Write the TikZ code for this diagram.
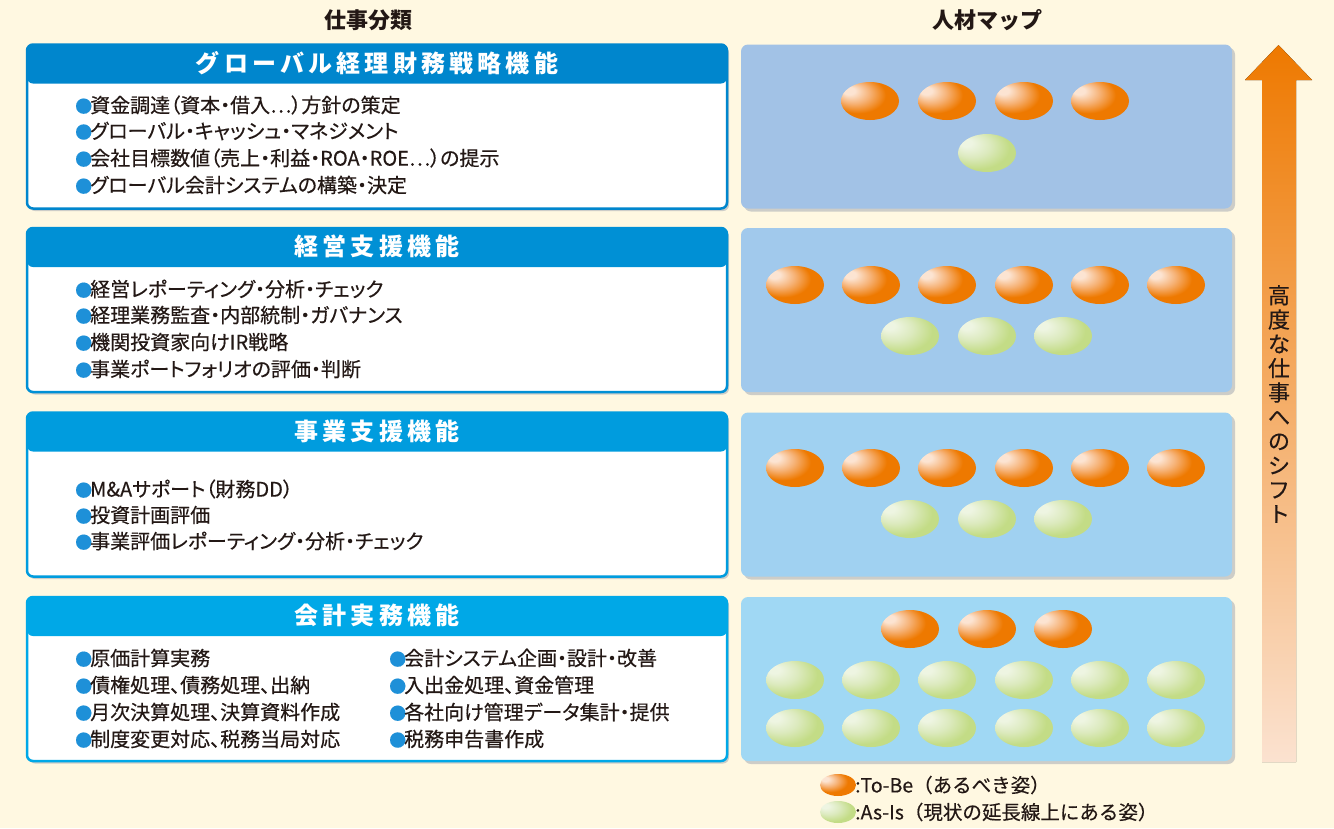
\documentclass[tikz,border=0pt]{standalone}
\usepackage{fontspec}
\setmainfont{Noto Sans CJK JP}
\newfontfamily\jpp[RawFeature=+palt,FakeBold=0.35]{Noto Sans CJK JP}
\newfontfamily\jpm[FakeBold=0.35]{Noto Sans CJK JP}
\usetikzlibrary{shapes.geometric}
\definecolor{bg}{RGB}{255,248,225}
\definecolor{txt}{RGB}{35,24,21}
\definecolor{hA}{RGB}{0,134,205}
\definecolor{hB}{RGB}{0,144,213}
\definecolor{hC}{RGB}{0,156,222}
\definecolor{hD}{RGB}{0,168,231}
\definecolor{pA}{RGB}{162,194,230}
\definecolor{pB}{RGB}{161,201,236}
\definecolor{pC}{RGB}{160,209,241}
\definecolor{pD}{RGB}{160,216,244}
\definecolor{shd}{RGB}{205,205,200}
\definecolor{bdot}{RGB}{30,144,216}
\definecolor{oHi}{RGB}{252,228,210}
\definecolor{oMid}{RGB}{246,178,118}
\definecolor{oDeep}{RGB}{238,121,0}
\definecolor{gHi}{RGB}{238,245,226}
\definecolor{gMid}{RGB}{220,234,190}
\definecolor{gDeep}{RGB}{195,220,134}
\definecolor{arrTop}{RGB}{238,121,0}
\definecolor{arrMid}{RGB}{244,172,112}
\definecolor{arrBot}{RGB}{251,226,208}
\pgfdeclareradialshading{ballO}{\pgfpoint{-20bp}{15bp}}{color(0bp)=(oHi); color(5bp)=(oHi); color(14bp)=(oMid); color(24bp)=(oDeep); color(50bp)=(oDeep)}
\pgfdeclareradialshading{ballG}{\pgfpoint{-20bp}{15bp}}{color(0bp)=(gHi); color(5bp)=(gHi); color(16bp)=(gMid); color(28bp)=(gDeep); color(50bp)=(gDeep)}
\newcommand{\bl}{\textcolor{bdot}{\fontsize{17}{17}\selectfont●}\kern-2pt}
\tikzset{
  lbox/.style={draw=#1, fill=white, line width=2.5pt, rounded corners=6pt,
    minimum width=700pt, minimum height=164pt, inner sep=0pt,
    preaction={fill=shd, transform canvas={xshift=2pt,yshift=-2.5pt}},
    path picture={\fill[#1] (path picture bounding box.north west) rectangle ([yshift=-39pt]path picture bounding box.north east);}},
  rpanel/.style={fill=#1, rounded corners=7pt, minimum width=491pt, minimum height=164pt, inner sep=0pt,
    preaction={fill=shd, transform canvas={xshift=3pt,yshift=-3pt}}},
  hdtext/.style={text=white, font=\bfseries\fontsize{24}{24}\selectfont\addfontfeature{LetterSpace=17.5}},
  bul/.style={anchor=west, inner sep=0pt, text=txt, font=\jpp\fontsize{20}{20}\selectfont},
  oball/.style={ellipse, shading=ballO, minimum width=58pt, minimum height=38pt, inner sep=0pt},
  gball/.style={ellipse, shading=ballG, minimum width=58pt, minimum height=38pt, inner sep=0pt},
  colhead/.style={text=txt, font=\bfseries\fontsize{22}{22}\selectfont},
}
\begin{document}
\begin{tikzpicture}[x=1pt,y=-1pt]
\fill[bg] (0,0) rectangle (1334,828);
\useasboundingbox (0,0) rectangle (1334,828);

% column headers
\node[colhead] (ch1) at (368,20) {仕事分類};
\node[colhead] (ch2) at (987,20) {人材マップ};

% left boxes
\node[lbox=hA] (L1) at (377,126.5) {};
\node[lbox=hB] (L2) at (377,310) {};
\node[lbox=hC] (L3) at (377,494.5) {};
\node[lbox=hD] (L4) at (377,679) {};
\node[hdtext] (H1) at ([yshift=-20pt]L1.north) {グローバル経理財務戦略機能};
\node[hdtext] (H2) at ([yshift=-20pt]L2.north) {経営支援機能};
\node[hdtext] (H3) at ([yshift=-20pt]L3.north) {事業支援機能};
\node[hdtext] (H4) at ([yshift=-20pt]L4.north) {会計実務機能};

% bullets box 1
\node[bul] (t11) at (75,105) {\bl 資金調達（資本・借入…）方針の策定};
\node[bul] (t12) at (75,131) {\bl グローバル・キャッシュ・マネジメント};
\node[bul] (t13) at (75,158) {\bl 会社目標数値（売上・利益・ROA・ROE…）の提示};
\node[bul] (t14) at (75,185) {\bl グローバル会計システムの構築・決定};
% box 2
\node[bul] (t21) at (75,289) {\bl 経営レポーティング・分析・チェック};
\node[bul] (t22) at (75,315) {\bl 経理業務監査・内部統制・ガバナンス};
\node[bul] (t23) at (75,342) {\bl 機関投資家向けIR戦略};
\node[bul] (t24) at (75,369) {\bl 事業ポートフォリオの評価・判断};
% box 3
\node[bul] (t31) at (75,489) {\bl M\&Aサポート（財務DD）};
\node[bul] (t32) at (75,515) {\bl 投資計画評価};
\node[bul] (t33) at (75,541) {\bl 事業評価レポーティング・分析・チェック};
% box 4
\node[bul] (t41) at (75,658) {\bl 原価計算実務};
\node[bul] (t42) at (75,685) {\bl 債権処理、債務処理、出納};
\node[bul] (t43) at (75,712) {\bl 月次決算処理、決算資料作成};
\node[bul] (t44) at (75,739) {\bl 制度変更対応、税務当局対応};
\node[bul] (t45) at (389,658) {\bl 会計システム企画・設計・改善};
\node[bul] (t46) at (389,685) {\bl 入出金処理、資金管理};
\node[bul] (t47) at (389,712) {\bl 各社向け管理データ集計・提供};
\node[bul] (t48) at (389,739) {\bl 税務申告書作成};

% right panels
\node[rpanel=pA] (R1) at (986.5,126.5) {};
\node[rpanel=pB] (R2) at (986.5,310) {};
\node[rpanel=pC] (R3) at (986.5,494.5) {};
\node[rpanel=pD] (R4) at (986.5,679) {};

% panel 1
\foreach \x [count=\i] in {870,947,1024,1100} \node[oball] (a\i) at (\x,101) {};
\node[gball] (ag1) at (987,153) {};
% panel 2
\foreach \x [count=\i] in {795,871,947,1024,1100,1176} \node[oball] (b\i) at (\x,285) {};
\foreach \x [count=\i] in {910,987,1063} \node[gball] (bg\i) at (\x,336) {};
% panel 3
\foreach \x [count=\i] in {795,871,947,1024,1100,1176} \node[oball] (c\i) at (\x,468) {};
\foreach \x [count=\i] in {910,987,1063} \node[gball] (cg\i) at (\x,519) {};
% panel 4
\foreach \x [count=\i] in {910,987,1063} \node[oball] (d\i) at (\x,629) {};
\foreach \x [count=\i] in {795,871,947,1024,1100,1176} \node[gball] (dg\i) at (\x,680) {};
\foreach \x [count=\i] in {795,871,947,1024,1100,1176} \node[gball] (dh\i) at (\x,728) {};

% arrow
\fill[top color=arrTop, middle color=arrMid, bottom color=arrBot]
  (1278.5,45) -- (1312,80) -- (1296,80) -- (1296,762) -- (1262,762) -- (1262,80) -- (1245,80) -- cycle;
\node[align=center, text=txt, inner sep=0pt, font=\jpm\fontsize{22}{24.3}\selectfont] (shift) at (1279,404)
  {高\\度\\な\\仕\\事\\へ\\の\\シ\\フ\\ト};

% legend
\node[oball, minimum width=36pt, minimum height=22pt] (lo) at (838,785) {};
\node[gball, minimum width=36pt, minimum height=22pt] (lg) at (838,812) {};
\node[bul, font=\jpm\fontsize{19.5}{19.5}\selectfont] (lot) at (855,785) {:To-Be（あるべき姿）};
\node[bul, font=\jpm\fontsize{19.5}{19.5}\selectfont] (lgt) at (855,812) {:As-Is（現状の延長線上にある姿）};
\end{tikzpicture}
\end{document}
